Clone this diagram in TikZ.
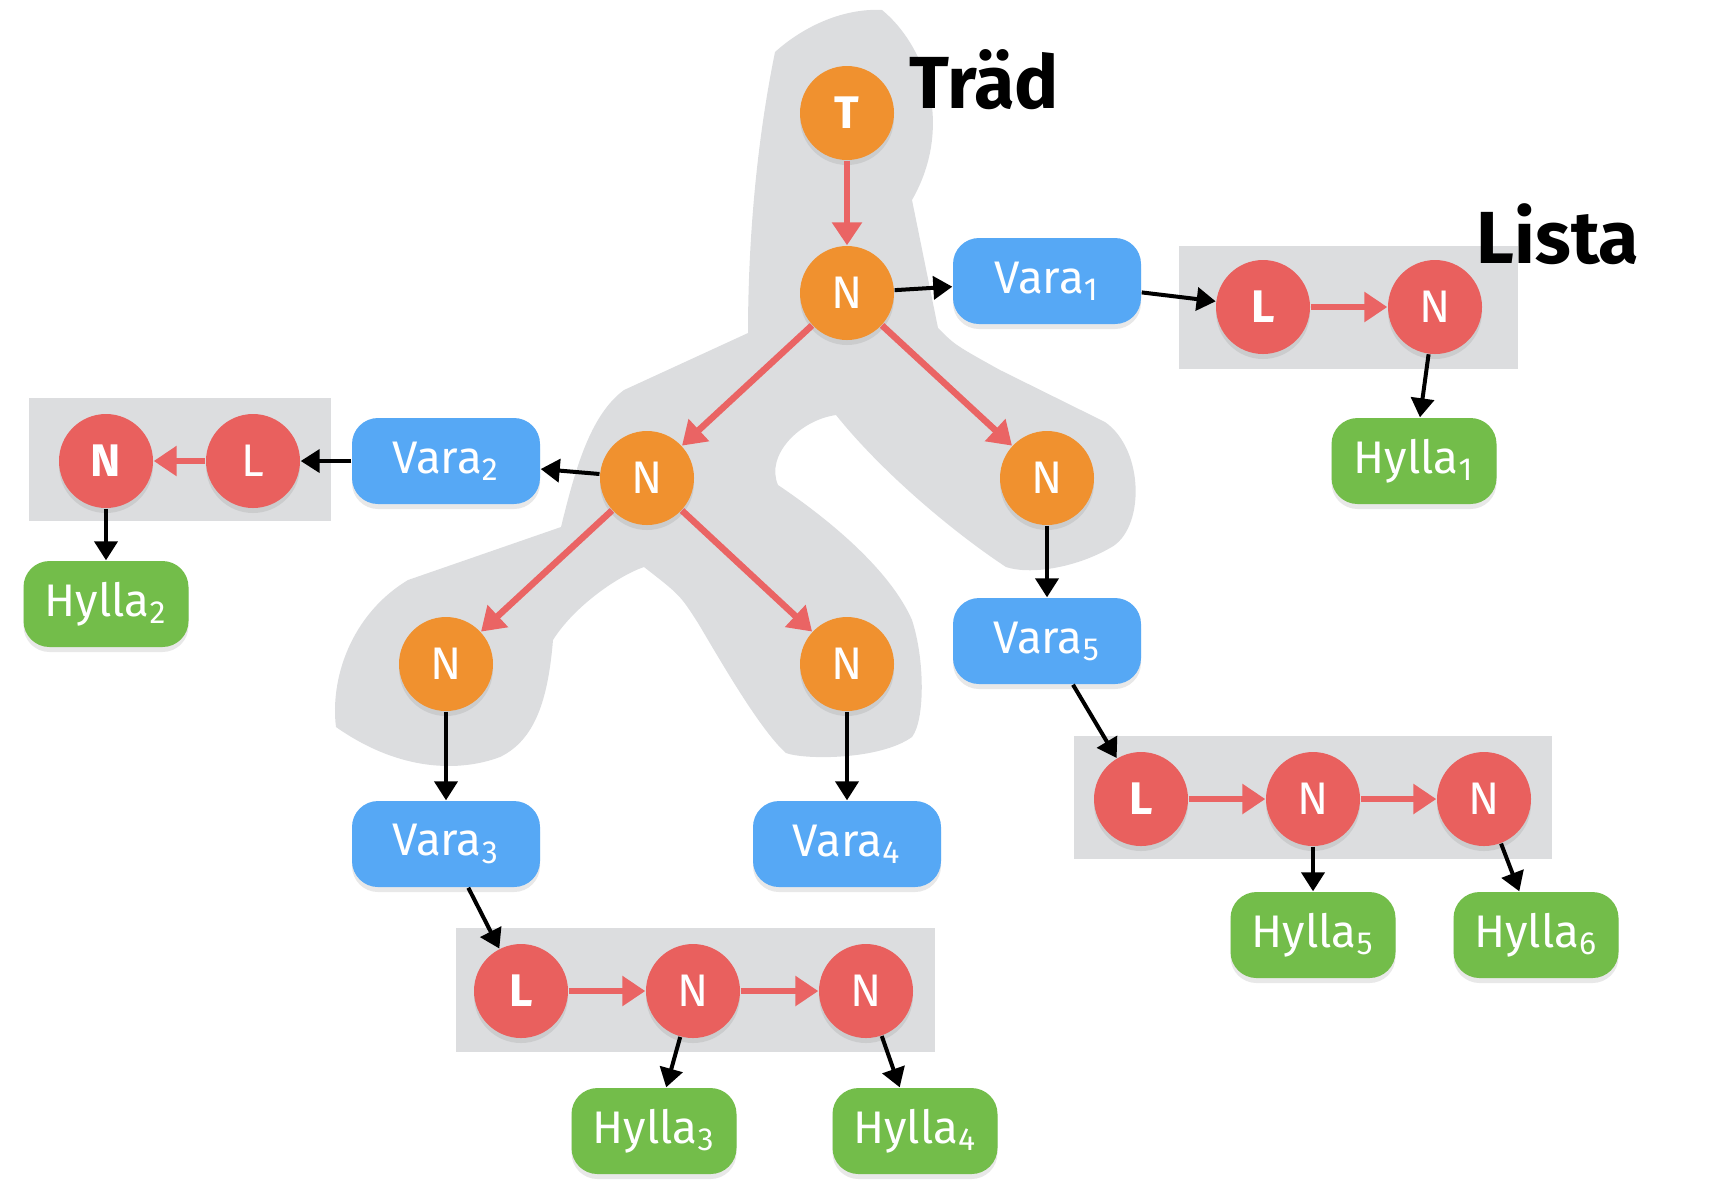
\documentclass[tikz,border=0pt]{standalone}
\usepackage{fontspec}
\setmainfont{Fira Sans}
\usetikzlibrary{
    arrows.meta, % For arrow tips
    shadows      % For the soft shadows under nodes
}
\definecolor{treeorange}{HTML}{F0912F}
\definecolor{listred}{HTML}{E9605E}
\definecolor{varablue}{HTML}{56A8F5}
\definecolor{hyllagreen}{HTML}{73BD4A}
\definecolor{panelgrey}{HTML}{DCDDDF}
\definecolor{linkred}{HTML}{EA6464}
\newcommand{\nodefont}{\fontsize{13pt}{15pt}\selectfont}
\newcommand{\titlefont}{\bfseries\fontsize{21pt}{24pt}\selectfont}

\begin{document}
\begin{tikzpicture}[
    x=0.1mm, y=-0.1mm, % pixel grid, y downwards
    shade/.style={drop shadow={shadow xshift=0mm, shadow yshift=-0.5mm, opacity=0.18}},
    tnode/.style={circle, fill=treeorange, minimum size=9.4mm, inner sep=0pt,
        text=white, font=\nodefont, shade},
    lnode/.style={tnode, fill=listred},
    vara/.style={rounded corners=2.6mm, fill=varablue, minimum width=18.8mm,
        minimum height=8.6mm, inner sep=0pt, text=white, font=\nodefont, shade},
    hylla/.style={vara, fill=hyllagreen, minimum width=16.5mm},
    ptr/.style={-{Triangle[length=1.9mm, width=2.3mm]}, line width=0.4mm, black},
    link/.style={-{Triangle[length=2.3mm, width=2.9mm]}, line width=0.65mm, linkred},
    panel/.style={fill=panelgrey}
]
    \useasboundingbox (0,0) rectangle (1720,1196);

    % Grey blob behind the tree
    \fill[panelgrey] (775,52) .. controls (805,25) and (845,8) .. (882,10)
        .. controls (925,45) and (955,125) .. (912,200)
        -- (938,328) .. controls (955,345) .. (1000,370) -- (1105,422)
        .. controls (1145,450) and (1145,530) .. (1110,548)
        .. controls (1075,568) and (1030,575) .. (1006,567)
        .. controls (950,530) and (880,470) .. (836,415)
        .. controls (800,420) and (765,455) .. (778,485)
        .. controls (830,520) and (890,570) .. (912,620)
        .. controls (925,660) and (925,720) .. (912,737)
        .. controls (880,760) and (805,760) .. (786,753)
        .. controls (760,730) and (720,660) .. (698,623)
        .. controls (680,595) .. (644,567)
        .. controls (620,575) and (575,605) .. (553,640)
        .. controls (548,700) and (535,740) .. (500,757)
        .. controls (460,772) and (400,772) .. (336,727)
        .. controls (330,680) and (350,615) .. (408,580) -- (561,527)
        .. controls (575,470) and (590,415) .. (624,390) -- (748,333)
        .. controls (748,250) and (755,150) .. (775,52) -- cycle;

    % Grey panels behind the lists
    \fill[panel] (1179,246) rectangle (1518,369);
    \fill[panel] (29,398) rectangle (331,521);
    \fill[panel] (1074,736) rectangle (1552,859);
    \fill[panel] (456,928) rectangle (935,1052);

    % Titles
    \node[font=\titlefont] (trad) at (984,80) {Träd};
    \node[font=\titlefont] (lista) at (1558,234) {Lista};

    % Tree
    \node[tnode, font=\nodefont\bfseries] (t) at (847,113) {T};
    \node[tnode] (n1) at (847,293) {N};
    \node[tnode] (n2) at (647,478) {N};
    \node[tnode] (n3) at (1047,478) {N};
    \node[tnode] (n4) at (446,664) {N};
    \node[tnode] (n5) at (847,664) {N};

    % Items
    \node[vara] (vara1) at (1047,281) {Vara\textsubscript{1}};
    \node[vara] (vara2) at (446,461) {Vara\textsubscript{2}};
    \node[vara] (vara3) at (446,844) {Vara\textsubscript{3}};
    \node[vara] (vara4) at (847,844) {Vara\textsubscript{4}};
    \node[vara] (vara5) at (1047,641) {Vara\textsubscript{5}};

    % Lists
    \node[lnode, font=\nodefont\bfseries] (l1) at (1263,307) {L};
    \node[lnode] (l1a) at (1435,307) {N};
    \node[lnode] (l2) at (253,461) {L};
    \node[lnode, font=\nodefont\bfseries] (l2a) at (106,461) {N};
    \node[lnode, font=\nodefont\bfseries] (l3) at (521,991) {L};
    \node[lnode] (l3a) at (693,991) {N};
    \node[lnode] (l3b) at (866,991) {N};
    \node[lnode, font=\nodefont\bfseries] (l5) at (1141,799) {L};
    \node[lnode] (l5a) at (1313,799) {N};
    \node[lnode] (l5b) at (1484,799) {N};

    % Shelves
    \node[hylla] (hylla1) at (1414,461) {Hylla\textsubscript{1}};
    \node[hylla] (hylla2) at (106,604) {Hylla\textsubscript{2}};
    \node[hylla] (hylla3) at (654,1131) {Hylla\textsubscript{3}};
    \node[hylla] (hylla4) at (915,1131) {Hylla\textsubscript{4}};
    \node[hylla] (hylla5) at (1313,935) {Hylla\textsubscript{5}};
    \node[hylla] (hylla6) at (1536,935) {Hylla\textsubscript{6}};

    % Red links
    \draw[link] (t) -- (n1);
    \draw[link] (n1) -- (n2);
    \draw[link] (n1) -- (n3);
    \draw[link] (n2) -- (n4);
    \draw[link] (n2) -- (n5);
    \draw[link] (l1) -- (l1a);
    \draw[link] (l2) -- (l2a);
    \draw[link] (l3) -- (l3a);
    \draw[link] (l3a) -- (l3b);
    \draw[link] (l5) -- (l5a);
    \draw[link] (l5a) -- (l5b);

    % Black pointers
    \draw[ptr] (n1) -- (vara1);
    \draw[ptr] (n2) -- (vara2);
    \draw[ptr] (n3) -- (vara5);
    \draw[ptr] (n4) -- (vara3);
    \draw[ptr] (n5) -- (vara4);
    \draw[ptr] (vara1) -- (l1);
    \draw[ptr] (vara2) -- (l2);
    \draw[ptr] (vara3) -- (l3);
    \draw[ptr] (vara5) -- (l5);
    \draw[ptr] (l1a) -- (hylla1);
    \draw[ptr] (l2a) -- (hylla2);
    \draw[ptr] (l3a) -- (hylla3);
    \draw[ptr] (l3b) -- (hylla4);
    \draw[ptr] (l5a) -- (hylla5);
    \draw[ptr] (l5b) -- (hylla6);

\end{tikzpicture}
\end{document}
